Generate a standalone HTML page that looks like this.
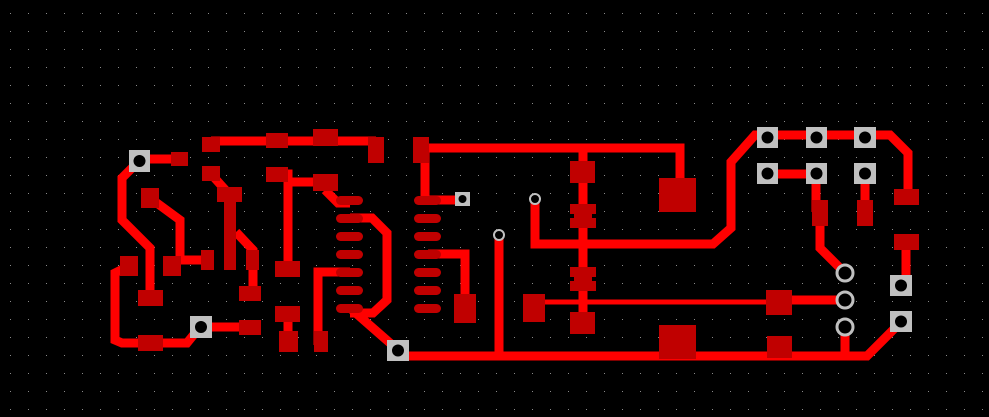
<!DOCTYPE html>
<html><head><meta charset="utf-8"><style>html,body{margin:0;padding:0;background:#000}svg{display:block}</style></head><body>
<svg width="989" height="417" viewBox="0 0 989 417" xmlns="http://www.w3.org/2000/svg">
<defs><pattern id="g" x="10" y="13" width="18" height="18" patternUnits="userSpaceOnUse"><rect x="0" y="0" width="1" height="1" fill="#8a8a8a"/></pattern></defs>
<rect width="989" height="417" fill="#000"/>
<rect width="989" height="417" fill="url(#g)"/>
<g fill="none" stroke="#ff0000" stroke-width="9" stroke-linejoin="miter">
<path d="M140,159 H180"/>
<path d="M211,141 H376"/>
<path d="M211,174 L229,194"/>
<path d="M236,232 L253,250 V290"/>
<path d="M277,174 H288 V270"/>
<path d="M288,182 H325"/>
<path d="M325,190 L338,203 H350"/>
<path d="M350,218 H372 L387,233 V300 L373,313 H350"/>
<path d="M350,272 H318 V345"/>
<path d="M350,308 L398,350"/>
<path d="M288,314 V345"/>
<path d="M150,198 L180,220 V260 H207"/>
<path d="M139,161 L122,178 V220 L150,248 V298"/>
<path d="M129,266 L115,273 V340 L122,343 H187 L200,327 H250"/>
<path d="M425,150 V200 H462"/>
<path d="M429,148 H680 V195"/>
<path d="M428,254 H465 V305"/>
<path d="M499,235 V356"/>
<path d="M535,199 V244 H713 L731,228 V162 L755,135 H890 L908,153 V197"/>
<path d="M583,148 V330"/>
<path d="M767,174 H816"/>
<path d="M816,174 V212"/>
<path d="M865,174 V212"/>
<path d="M820,212 V248 L845,273"/>
<path d="M906,242 V286"/>
<path d="M792,300 H845"/>
<path d="M845,327 V356"/>
<path d="M398,356 H867 L901,322"/>
</g>
<path d="M534,302 H780" stroke="#ff0000" stroke-width="5"/>
<g fill="#c00000">
<rect x="171" y="152" width="17" height="14"/>
<rect x="202" y="137" width="18" height="15"/>
<rect x="266" y="133" width="22" height="15"/>
<rect x="313" y="129" width="25" height="17"/>
<rect x="368" y="137" width="16" height="26"/>
<rect x="202" y="166" width="18" height="15"/>
<rect x="217" y="187" width="25" height="15"/>
<rect x="224" y="202" width="12" height="68"/>
<rect x="246" y="250" width="13" height="20"/>
<rect x="239" y="286" width="22" height="15"/>
<rect x="266" y="167" width="22" height="15"/>
<rect x="313" y="174" width="25" height="17"/>
<rect x="275" y="261" width="25" height="16"/>
<rect x="141" y="188" width="18" height="20"/>
<rect x="201" y="250" width="13" height="20"/>
<rect x="163" y="256" width="18" height="20"/>
<rect x="138" y="290" width="25" height="16"/>
<rect x="120" y="256" width="18" height="20"/>
<rect x="138" y="335" width="25" height="16"/>
<rect x="239" y="320" width="22" height="15"/>
<rect x="275" y="306" width="25" height="16"/>
<rect x="279" y="331" width="19" height="21"/>
<rect x="314" y="331" width="14" height="21"/>
<rect x="413" y="137" width="16" height="26"/>
<rect x="454" y="294" width="22" height="29"/>
<rect x="659" y="178" width="37" height="34"/>
<rect x="570" y="161" width="25" height="22"/>
<path d="M570,204 H596 V214 H592 V218 H596 V228 H570 V218 H574 V214 H570 Z"/>
<path d="M570,267 H596 V277 H592 V281 H596 V291 H570 V281 H574 V277 H570 Z"/>
<rect x="570" y="312" width="25" height="22"/>
<rect x="523" y="294" width="22" height="28"/>
<rect x="766" y="290" width="26" height="25"/>
<rect x="659" y="325" width="37" height="34"/>
<rect x="767" y="336" width="25" height="22"/>
<rect x="812" y="200" width="16" height="26"/>
<rect x="857" y="200" width="16" height="26"/>
<rect x="894" y="189" width="25" height="16"/>
<rect x="894" y="234" width="25" height="16"/>
<g>
<rect x="336" y="196" width="27" height="9" rx="4.5"/><rect x="336" y="214" width="27" height="9" rx="4.5"/><rect x="336" y="232" width="27" height="9" rx="4.5"/><rect x="336" y="250" width="27" height="9" rx="4.5"/><rect x="336" y="268" width="27" height="9" rx="4.5"/><rect x="336" y="286" width="27" height="9" rx="4.5"/><rect x="336" y="304" width="27" height="9" rx="4.5"/>
<rect x="414" y="196" width="27" height="9" rx="4.5"/><rect x="414" y="214" width="27" height="9" rx="4.5"/><rect x="414" y="232" width="27" height="9" rx="4.5"/><rect x="414" y="250" width="27" height="9" rx="4.5"/><rect x="414" y="268" width="27" height="9" rx="4.5"/><rect x="414" y="286" width="27" height="9" rx="4.5"/><rect x="414" y="304" width="27" height="9" rx="4.5"/>
</g>
</g>
<g fill="#c0c0c0">
<rect x="129" y="150" width="21" height="22"/>
<rect x="190" y="316" width="22" height="22"/>
<rect x="387" y="340" width="22" height="21"/>
<rect x="455" y="192" width="15" height="14"/>
<rect x="757" y="127" width="21" height="21"/><rect x="806" y="127" width="21" height="21"/><rect x="854" y="127" width="22" height="21"/>
<rect x="757" y="163" width="21" height="21"/><rect x="806" y="163" width="21" height="21"/><rect x="854" y="163" width="22" height="21"/>
<rect x="890" y="275" width="22" height="21"/><rect x="890" y="311" width="22" height="21"/>
</g>
<g fill="#000">
<circle cx="139.5" cy="161" r="6"/><circle cx="201" cy="327" r="6"/><circle cx="398" cy="350.5" r="6"/><circle cx="462.5" cy="199" r="4"/>
<circle cx="767.5" cy="137.5" r="6"/><circle cx="816.5" cy="137.5" r="6"/><circle cx="865" cy="137.5" r="6"/>
<circle cx="767.5" cy="173.5" r="6"/><circle cx="816.5" cy="173.5" r="6"/><circle cx="865" cy="173.5" r="6"/>
<circle cx="901" cy="285.5" r="6"/><circle cx="901" cy="321.5" r="6"/>
</g>
<g fill="#000" stroke="#c0c0c0">
<circle cx="499" cy="235" r="5" stroke-width="2"/><circle cx="535" cy="199" r="5" stroke-width="2"/>
<circle cx="845" cy="273" r="8" stroke-width="3"/><circle cx="845" cy="300" r="8" stroke-width="3"/><circle cx="845" cy="327" r="8" stroke-width="3"/>
</g>
</svg>
</body></html>
